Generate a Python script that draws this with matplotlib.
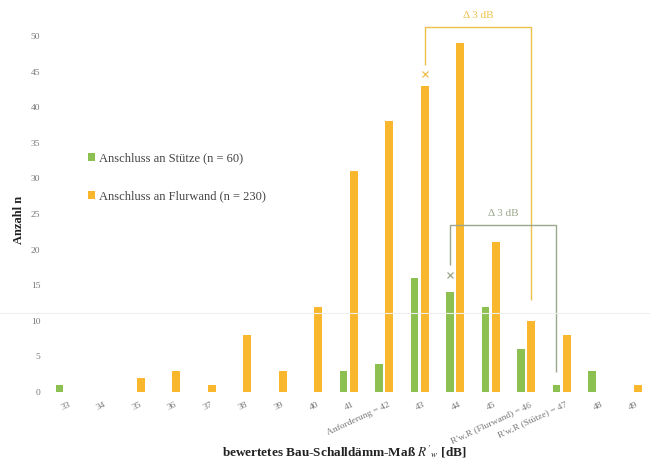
import matplotlib
matplotlib.use("Agg")
import matplotlib.pyplot as plt
from matplotlib.lines import Line2D
import numpy as np

plt.rcParams['font.family'] = ['Liberation Serif', 'DejaVu Serif']
plt.rcParams['mathtext.fontset'] = 'stix'

# Sound insulation classes (R'w in dB) and counts per connection type
categories = ["33", "34", "35", "36", "37", "38", "39", "40", "41",
              "Anforderung = 42", "43", "44", "45",
              "R'w,R (Flurwand) = 46", "R'w,R (Stütze) = 47", "48", "49"]
stuetze = [1, 0, 0, 0, 0, 0, 0, 0, 3, 4, 16, 14, 12, 6, 1, 3, 0]
flurwand = [0, 0, 2, 3, 1, 8, 3, 12, 31, 38, 43, 49, 21, 10, 8, 0, 1]
yticks = list(range(0, 51, 5))

GREEN = '#8cc152'
ORANGE = '#f8b72c'
BR_ORANGE = '#efc14a'
BR_GREEN = '#9aa78a'

fig = plt.figure(figsize=(6.5, 4.62), dpi=100)
ax = fig.add_axes([0.075, 0.1515, 0.92, 0.8476])

x = np.arange(len(categories))
w = 0.22
off = 0.145
ax.bar(x - off, stuetze, width=w, color=GREEN, label='Anschluss an Stütze (n = 60)')
ax.bar(x + off, flurwand, width=w, color=ORANGE, label='Anschluss an Flurwand (n = 230)')

ax.set_xlim(-0.45, 16.4)
ax.set_ylim(0, 55)
ax.set_yticks(yticks)
ax.set_yticklabels([str(v) for v in yticks], fontsize=6.8, color='#777777')
ax.set_xticks(x + 0.1)
ax.set_xticklabels(categories, rotation=25, ha='right', rotation_mode='anchor',
                   fontsize=6.8, color='#777777')
ax.tick_params(axis='both', length=0, pad=6)
for s in ax.spines.values():
    s.set_visible(False)

ax.set_xlabel("bewertetes Bau-Schalldämm-Maß $\\boldsymbol{R'_w}$ [dB]",
              fontsize=9.5, fontweight='bold', color='#222222')
ax.xaxis.set_label_coords(0.495, -0.13)
ax.set_ylabel('Anzahl n', fontsize=9, fontweight='bold', color='#222222')
ax.yaxis.set_label_coords(-0.04, 0.44)

leg = ax.legend(loc='upper left', bbox_to_anchor=(0.058, 0.625), frameon=False,
                fontsize=9, handlelength=0.55, handleheight=0.55, handletextpad=0.3,
                labelspacing=2.1, borderaxespad=0)
for t in leg.get_texts():
    t.set_color('#444444')


def bracket(i0, i1, side, top, y0, y1, color):
    xa = i0 + side
    xb = i1 + side
    ax.plot([xa, xa, xb, xb], [y0, top, top, y1], color=color, lw=1.0,
            solid_capstyle='butt')
    ax.plot([xa], [y0 - 1.3], marker='x', ms=4, mew=0.9, color=color)
    ax.text((xa + xb) / 2, top + 1.0, 'Δ 3 dB', ha='center', va='bottom',
            fontsize=8, color=color)


# 43 -> 46 for the corridor wall, 44 -> 47 for the column
bracket(10, 13, off, 51.3, 45.9, 12.9, BR_ORANGE)
bracket(11, 14, -off, 23.5, 17.8, 2.8, BR_GREEN)

fig.add_artist(Line2D([0, 1], [0.3225, 0.3225], transform=fig.transFigure,
                      color='#eeeeee', lw=0.8))

fig.savefig('out.png', dpi=100)
